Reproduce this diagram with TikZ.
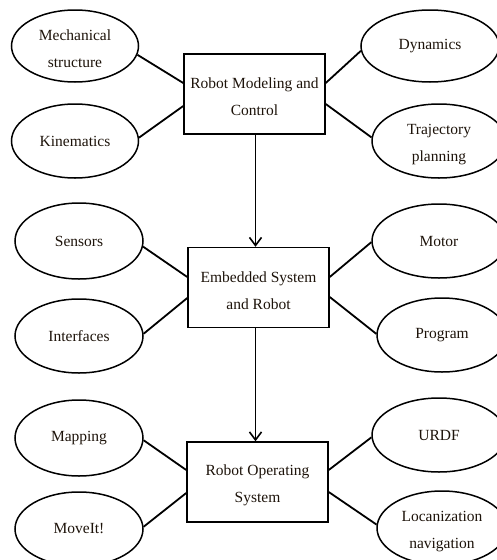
\documentclass[tikz,border=0pt]{standalone}
\usepackage{fontspec}
\setmainfont{Liberation Serif}
\usetikzlibrary{shapes.geometric,arrows.meta}
\newcommand\tup{\rule{0pt}{16.5pt}}
\begin{document}
\begin{tikzpicture}[x=1pt,y=-1pt,
  every node/.style={font=\fontsize{15.5}{27}\selectfont, align=center, inner sep=0pt, text=black!85!brown},
  mainbox/.style={draw=black, line width=1.5pt, rectangle, minimum width=141pt, minimum height=80pt},
  oval/.style={draw=black, line width=1.5pt, ellipse, minimum width=127pt, minimum height=74pt},
  link/.style={line width=1.8pt},
  flow/.style={line width=1.8pt, -{Straight Barb[length=8pt,width=12pt,line width=1.6pt]}}]
\useasboundingbox (0,0) rectangle (497,560);
% boxes
\node[mainbox] (b1) at (254.5,94) {\tup Robot Modeling and\\Control};
\node[mainbox] (b2) at (258.5,287.5) {\tup Embedded System\\and Robot};
\node[mainbox] (b3) at (257.5,482) {\tup Robot Operating\\System};
% ellipses
\node[oval, minimum height=72pt] (e1) at (75,46) {\tup Mechanical\\structure};
\node[oval] (e2) at (75,141) {Kinematics};
\node[oval, minimum height=72pt, minimum width=138pt] (e3) at (430,46) {Dynamics};
\node[oval, minimum width=134pt] (e4) at (439,141) {\tup Trajectory\\planning};
\node[oval, minimum width=128pt, minimum height=76pt] (e5) at (79,241) {Sensors};
\node[oval, minimum width=128pt] (e6) at (79,336) {Interfaces};
\node[oval, minimum width=134pt] (e7) at (439,241) {Motor};
\node[oval, minimum width=130pt] (e8) at (442,335) {Program};
\node[oval, minimum width=128pt, minimum height=76pt] (e9) at (79,438) {Mapping};
\node[oval, minimum width=128pt] (e10) at (79,529) {MoveIt!};
\node[oval, minimum width=134pt] (e11) at (439,435) {URDF};
\node[oval, minimum width=130pt] (e12) at (442,528) {\tup Locanization\\navigation};
% connectors
\draw[link] (e1.-8) -- ([yshift=11pt]b1.west);
\draw[link] (e2.3) -- ([yshift=-12pt]b1.west);
\draw[link] (e3.184) -- ([yshift=11pt]b1.east);
\draw[link] (e4.177) -- ([yshift=-10pt]b1.east);
\draw[link] (e5.-5) -- ([yshift=10.5pt]b2.west);
\draw[link] (e6.2) -- ([yshift=-10.5pt]b2.west);
\draw[link] (e7.181) -- ([yshift=10.5pt]b2.east);
\draw[link] (e8.179) -- ([yshift=-9.5pt]b2.east);
\draw[link] (e9.-2) -- ([yshift=12pt]b3.west);
\draw[link] (e10.2) -- ([yshift=-11pt]b3.west);
\draw[link] (e11.182) -- ([yshift=12pt]b3.east);
\draw[link] (e12.177) -- ([yshift=-10pt]b3.east);
% flow arrows
\draw[flow] (b1.south) ++(1,0) coordinate (a1) -- (a1 |- b2.north);
\draw[flow] (b2.south) ++(-3,0) coordinate (a2) -- (a2 |- b3.north);
\end{tikzpicture}
\end{document}
